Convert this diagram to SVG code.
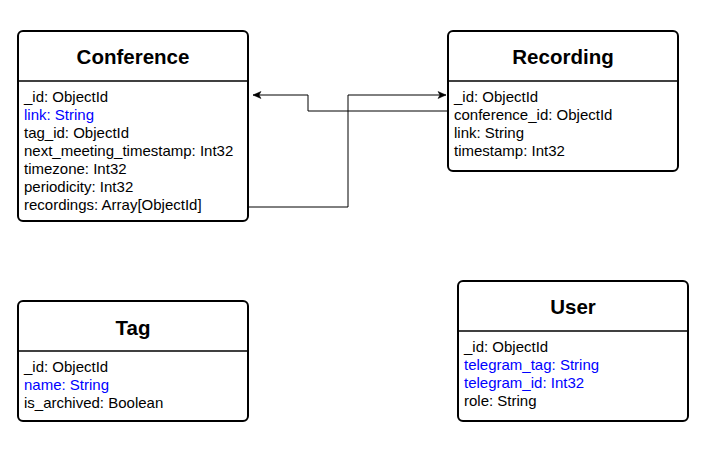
<svg xmlns="http://www.w3.org/2000/svg" width="720" height="453" viewBox="0 0 720 453">
<style>
.box{fill:#fff;stroke:#000;stroke-width:2}
.sep{stroke:#000;stroke-width:1.5}
.title{font-family:"Liberation Sans",Arial,sans-serif;font-size:20.5px;font-weight:bold;text-anchor:middle;fill:#000}
.f{font-family:"Liberation Sans",Arial,sans-serif;font-size:15px;fill:#000}
.b{fill:#0000FF}
.conn{fill:none;stroke:#000;stroke-width:1}
</style>
<defs>
<marker id="arr" markerUnits="userSpaceOnUse" markerWidth="10" markerHeight="10" viewBox="0 0 10 10" refX="9" refY="5" orient="auto">
<path d="M1,1.5 L9,5 L1,8.5 L3,5 Z" fill="#000" stroke="#000" stroke-width="0.5"/>
</marker>
</defs>
<rect width="720" height="453" fill="#fff"/>
<g id="connectors">
<path class="conn" d="M448,111 H308 V95 H253" marker-end="url(#arr)"/>
<path class="conn" d="M248,207 H348 V95 H446" marker-end="url(#arr)"/>
</g>
<g id="conference">
<rect class="box" x="18" y="31" width="230" height="190" rx="5"/>
<line class="sep" x1="18" y1="81" x2="248" y2="81"/>
<text class="title" x="133" y="64">Conference</text>
<text class="f" x="24" y="102">_id: ObjectId</text>
<text class="f b" x="24" y="120">link: String</text>
<text class="f" x="24" y="138">tag_id: ObjectId</text>
<text class="f" x="24" y="156">next_meeting_timestamp: Int32</text>
<text class="f" x="24" y="174">timezone: Int32</text>
<text class="f" x="24" y="192">periodicity: Int32</text>
<text class="f" x="24" y="210">recordings: Array[ObjectId]</text>
</g>
<g id="recording">
<rect class="box" x="448" y="31" width="230" height="140" rx="5"/>
<line class="sep" x1="448" y1="81" x2="678" y2="81"/>
<text class="title" x="563" y="64">Recording</text>
<text class="f" x="454" y="102">_id: ObjectId</text>
<text class="f" x="454" y="120">conference_id: ObjectId</text>
<text class="f" x="454" y="138">link: String</text>
<text class="f" x="454" y="156">timestamp: Int32</text>
</g>
<g id="tag">
<rect class="box" x="18" y="301" width="230" height="120" rx="5"/>
<line class="sep" x1="18" y1="351" x2="248" y2="351"/>
<text class="title" x="133" y="335">Tag</text>
<text class="f" x="24" y="372">_id: ObjectId</text>
<text class="f b" x="24" y="390">name: String</text>
<text class="f" x="24" y="408">is_archived: Boolean</text>
</g>
<g id="user">
<rect class="box" x="458" y="281" width="230" height="140" rx="5"/>
<line class="sep" x1="458" y1="331" x2="688" y2="331"/>
<text class="title" x="573" y="314">User</text>
<text class="f" x="464" y="352">_id: ObjectId</text>
<text class="f b" x="464" y="370">telegram_tag: String</text>
<text class="f b" x="464" y="388">telegram_id: Int32</text>
<text class="f" x="464" y="406">role: String</text>
</g>
</svg>
